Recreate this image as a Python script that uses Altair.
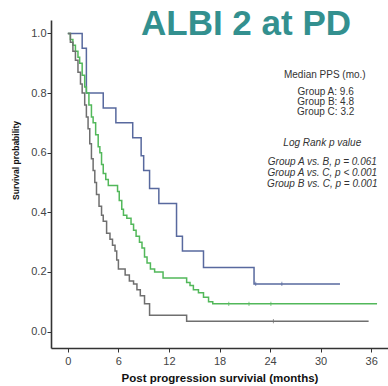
import altair as alt
import pandas as pd

# Kaplan-Meier step curves (time in months, survival probability)
a_time = [0, 1.7, 2.2, 4.2, 5.7, 7.7, 8.7, 9.0, 9.7, 10.8, 12.9, 13.6, 16.1, 22.1, 32.3]
a_surv = [1.0, 0.95, 0.80, 0.75, 0.70, 0.65, 0.59, 0.54, 0.48, 0.43, 0.32, 0.27, 0.215, 0.16, 0.16]

b_time = [0, 0.3, 0.6, 0.9, 1.2, 1.4, 1.7, 2.0, 2.2, 2.5, 2.8, 3.0, 3.3, 3.6, 3.8, 4.0, 4.2,
          4.5, 4.8, 5.9, 6.1, 6.4, 6.6, 7.0, 7.5, 7.8, 8.1, 8.5, 8.8, 9.1, 9.4, 9.8, 10.3,
          11.3, 14.1, 14.5, 14.9, 15.5, 16.1, 16.7, 17.2, 36.7]
b_surv = [1.0, 0.98, 0.96, 0.94, 0.92, 0.90, 0.86, 0.82, 0.80, 0.76, 0.72, 0.70, 0.66, 0.62,
          0.60, 0.56, 0.53, 0.51, 0.49, 0.47, 0.44, 0.41, 0.39, 0.38, 0.36, 0.34, 0.32, 0.30,
          0.28, 0.25, 0.23, 0.21, 0.20, 0.18, 0.165, 0.155, 0.14, 0.13, 0.115, 0.10, 0.093, 0.093]

c_time = [0, 0.3, 0.6, 0.9, 1.2, 1.5, 1.7, 2.0, 2.2, 2.4, 2.6, 2.8, 3.0, 3.2, 3.4, 3.7, 4.0,
          4.2, 4.6, 5.0, 5.3, 5.6, 5.8, 6.0, 6.8, 7.3, 7.8, 8.2, 8.6, 9.1, 9.7, 14.1, 35.7]
c_surv = [1.0, 0.97, 0.94, 0.91, 0.87, 0.83, 0.80, 0.76, 0.72, 0.68, 0.63, 0.58, 0.54, 0.50,
          0.46, 0.42, 0.39, 0.37, 0.33, 0.31, 0.29, 0.27, 0.24, 0.21, 0.19, 0.17, 0.16, 0.14,
          0.12, 0.093, 0.055, 0.035, 0.035]

# censoring marks
cens_group = ["A", "A", "B", "B", "B", "C"]
cens_time = [22.3, 25.4, 19.1, 21.5, 24.1, 24.4]
cens_surv = [0.16, 0.16, 0.093, 0.093, 0.093, 0.035]

groups = ["A", "B", "C"]
colors = ["#58699e", "#52b85a", "#6f6f6f"]

# annotation texts
ann_text = ["Median PPS (mo.)", "Group A: 9.6", "Group B: 4.8", "Group C: 3.2",
            "Log Rank p value", "Group A vs. B, p = 0.061", "Group A vs. C, p < 0.001",
            "Group B vs. C, p = 0.001"]
ann_x = [30.5, 30.6, 30.6, 30.6, 30.2, 30.2, 30.2, 30.2]
ann_y = [0.862, 0.803, 0.769, 0.735, 0.634, 0.568, 0.531, 0.494]
ann_style = ["normal", "normal", "normal", "normal", "italic", "italic", "italic", "italic"]

rows = []
for g, ts, ss in [("A", a_time, a_surv), ("B", b_time, b_surv), ("C", c_time, c_surv)]:
    for i, (t, s) in enumerate(zip(ts, ss)):
        rows.append({"group": g, "time": t, "surv": s, "order": i})
curves = pd.DataFrame(rows)
cens = pd.DataFrame({"group": cens_group, "time": cens_time, "surv": cens_surv})
ann = pd.DataFrame({"text": ann_text, "x": ann_x, "y": ann_y, "style": ann_style})

xs = alt.Scale(domain=[-2, 38], nice=False, zero=False)
ys = alt.Scale(domain=[-0.055, 1.045], nice=False, zero=False)
cs = alt.Scale(domain=groups, range=colors)

lines = alt.Chart(curves).mark_line(interpolate="step-after", strokeWidth=1.5).encode(
    x=alt.X("time:Q", scale=xs,
            axis=alt.Axis(title="Post progression survivial (months)", values=[0, 6, 12, 18, 24, 30, 36],
                          grid=False, tickSize=4, labelPadding=3, titlePadding=6,
                          titleFontSize=11.5, titleFontWeight="bold", labelFontSize=11)),
    y=alt.Y("surv:Q", scale=ys,
            axis=alt.Axis(title="Survival probability", values=[0, 0.2, 0.4, 0.6, 0.8, 1.0], format=".1f",
                          grid=False, tickSize=4, labelPadding=1, titlePadding=10,
                          titleFontSize=8.5, titleFontWeight="bold", labelFontSize=11,
                          titleY=140)),
    color=alt.Color("group:N", scale=cs, legend=None),
    order="order:Q",
)

marks = alt.Chart(cens).mark_point(shape="M0,-1L0,1", size=18, strokeWidth=1, filled=False).encode(
    x=alt.X("time:Q", scale=xs), y=alt.Y("surv:Q", scale=ys),
    color=alt.Color("group:N", scale=cs, legend=None),
)

normal = alt.Chart(ann[ann["style"] == "normal"]).mark_text(
    fontSize=10, align="center", baseline="middle", color="#333333", font="Liberation Sans"
).encode(x=alt.X("x:Q", scale=xs), y=alt.Y("y:Q", scale=ys), text="text:N")

italic = alt.Chart(ann[ann["style"] == "italic"]).mark_text(
    fontSize=10, align="center", baseline="middle", color="#333333", fontStyle="italic",
    font="Liberation Sans"
).encode(x=alt.X("x:Q", scale=xs), y=alt.Y("y:Q", scale=ys), text="text:N")

title = alt.Chart(pd.DataFrame({"t": ["ALBI 2 at PD"]})).mark_text(
    fontSize=35, fontWeight="bold", color="#33908f", align="center", baseline="alphabetic",
    font="Liberation Sans"
).encode(x=alt.value(195), y=alt.value(15), text="t:N")

chart = alt.layer(lines, marks, normal, italic, title).properties(
    width=337, height=328,
    autosize=alt.AutoSizeParams(type="none"),
    padding={"left": 51, "top": 20, "right": 0, "bottom": 38},
).configure_view(stroke=None).configure_axis(
    domainColor="#333333", domainWidth=1.6, tickColor="#333333", labelColor="#444444",
    titleColor="#111111", labelFont="Liberation Sans", titleFont="Liberation Sans",
)

chart.save("out.html", embed_options={"renderer": "svg", "actions": False})
